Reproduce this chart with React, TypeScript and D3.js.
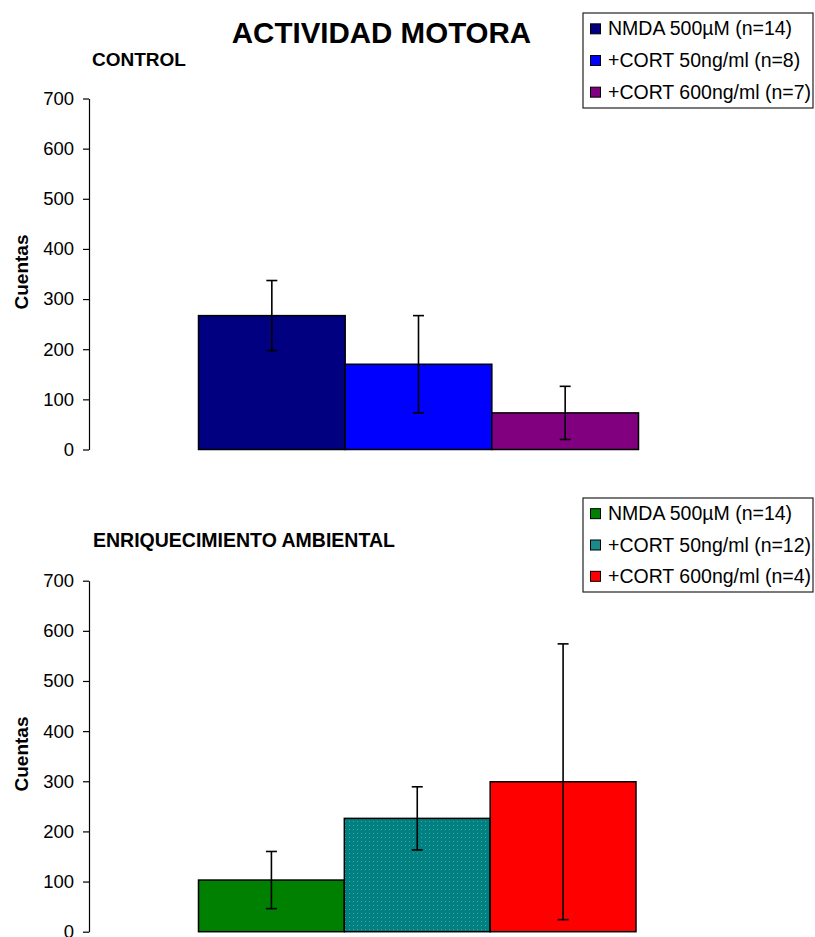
import React, { useEffect, useRef } from "react";
import * as d3 from "d3";

const categories = ["NMDA", "CORT50", "CORT600"];
const controlMeans = [267, 170, 73];
const controlErrors = [70, 97, 53];
const controlLabels = ["NMDA 500µM (n=14)", "+CORT 50ng/ml (n=8)", "+CORT 600ng/ml (n=7)"];
const enrichedMeans = [103, 226, 299];
const enrichedErrors = [57, 63, 275];
const enrichedLabels = ["NMDA 500µM (n=14)", "+CORT 50ng/ml (n=12)", "+CORT 600ng/ml (n=4)"];
const yTicks = [0, 100, 200, 300, 400, 500, 600, 700];

const controlColors = ["#000080", "#0000FF", "#800080"];
const enrichedColors = ["#008000", "url(#tealDots)", "#FF0000"];
const enrichedSwatch = ["#008000", "#1a8a8a", "#FF0000"];

const FONT = "Arial, 'Liberation Sans', Helvetica, sans-serif";

type PanelProps = {
  means: number[];
  errors: number[];
  colors: string[];
  yRange: [number, number];
  xRange: [number, number];
};

function Axis({ scale }: { scale: d3.ScaleLinear<number, number> }) {
  const ref = useRef<SVGGElement>(null);
  useEffect(() => {
    if (!ref.current) return;
    const g = d3.select(ref.current);
    g.selectAll("*").remove();
    g.call(
      d3
        .axisLeft(scale)
        .tickValues(yTicks)
        .tickSize(6)
        .tickSizeOuter(0)
        .tickPadding(9)
        .tickFormat(d3.format("d"))
    );
    g.selectAll("text")
      .attr("font-family", FONT)
      .attr("font-size", 18.5)
      .attr("fill", "#000");
    g.selectAll("line").attr("stroke", "#000").attr("stroke-width", 1.2);
    g.select(".domain").attr("stroke", "#000").attr("stroke-width", 1.2);
  }, [scale]);
  return <g ref={ref} transform="translate(89,0)" />;
}

function Panel({ means, errors, colors, yRange, xRange }: PanelProps) {
  const y = d3.scaleLinear().domain([0, 700]).range(yRange);
  const x = d3.scaleBand<string>().domain(categories).range(xRange).padding(0);
  const bw = x.bandwidth();
  return (
    <g>
      <Axis scale={y} />
      {categories.map((c, i) => (
        <rect
          key={c}
          x={x(c)!}
          y={y(means[i])}
          width={bw}
          height={y(0) - y(means[i])}
          fill={colors[i]}
          stroke="#000"
          strokeWidth={1.5}
        />
      ))}
      {categories.map((c, i) => {
        const cx = x(c)! + bw / 2;
        const top = y(means[i] + errors[i]);
        const bot = y(means[i] - errors[i]);
        return (
          <g key={c + "e"} stroke="#000" strokeWidth={1.6}>
            <line x1={cx} x2={cx} y1={top} y2={bot} />
            <line x1={cx - 5.5} x2={cx + 5.5} y1={top} y2={top} />
            <line x1={cx - 5.5} x2={cx + 5.5} y1={bot} y2={bot} />
          </g>
        );
      })}
    </g>
  );
}

function Legend({ labels, swatches, x, y, w, h }: { labels: string[]; swatches: string[]; x: number; y: number; w: number; h: number }) {
  const row = d3.scaleBand<number>().domain(labels.map((_, i) => i)).range([y, y + h]).padding(0);
  return (
    <g>
      <rect x={x} y={y} width={w} height={h} fill="#fff" stroke="#222" strokeWidth={1.2} />
      {labels.map((l, i) => {
        const cy = row(i)! + row.bandwidth() / 2;
        return (
          <g key={l}>
            <rect x={x + 7.5} y={cy - 5} width={10} height={10} fill={swatches[i]} stroke="#000" strokeWidth={1} />
            <text x={x + 25} y={cy + 6.5} fontFamily={FONT} fontSize={19.5} fill="#000">
              {l}
            </text>
          </g>
        );
      })}
    </g>
  );
}

export default function App() {
  return (
    <svg
      width={815}
      height={937}
      style={{ position: "absolute", left: 0, top: 0, background: "#fff" }}
    >
      <defs>
        <pattern id="tealDots" width={4} height={4} patternUnits="userSpaceOnUse">
          <rect width={4} height={4} fill="#008080" />
          <rect x={1} y={1} width={1} height={1} fill="#3fa8a8" />
        </pattern>
      </defs>
      <rect width={815} height={937} fill="#fff" />
      <text x={381.5} y={43} textAnchor="middle" fontFamily={FONT} fontWeight="bold" fontSize={29.5} fill="#000">
        ACTIVIDAD MOTORA
      </text>
      <text x={92} y={65.5} fontFamily={FONT} fontWeight="bold" fontSize={19} fill="#000">
        CONTROL
      </text>
      <text x={93} y={546.5} fontFamily={FONT} fontWeight="bold" fontSize={19.5} fill="#000">
        ENRIQUECIMIENTO AMBIENTAL
      </text>
      <text
        transform="translate(28,272) rotate(-90)"
        textAnchor="middle"
        fontFamily={FONT}
        fontWeight="bold"
        fontSize={19}
        fill="#000"
      >
        Cuentas
      </text>
      <text
        transform="translate(28,754) rotate(-90)"
        textAnchor="middle"
        fontFamily={FONT}
        fontWeight="bold"
        fontSize={19}
        fill="#000"
      >
        Cuentas
      </text>
      <Panel
        means={controlMeans}
        errors={controlErrors}
        colors={controlColors}
        yRange={[449.5, 98.5]}
        xRange={[198.5, 638.5]}
      />
      <Panel
        means={enrichedMeans}
        errors={enrichedErrors}
        colors={enrichedColors}
        yRange={[931.7, 580.7]}
        xRange={[198.5, 636]}
      />
      <Legend labels={controlLabels} swatches={controlColors} x={583} y={13} w={230} h={95} />
      <Legend labels={enrichedLabels} swatches={enrichedSwatch} x={583} y={498} w={230} h={94} />
    </svg>
  );
}
